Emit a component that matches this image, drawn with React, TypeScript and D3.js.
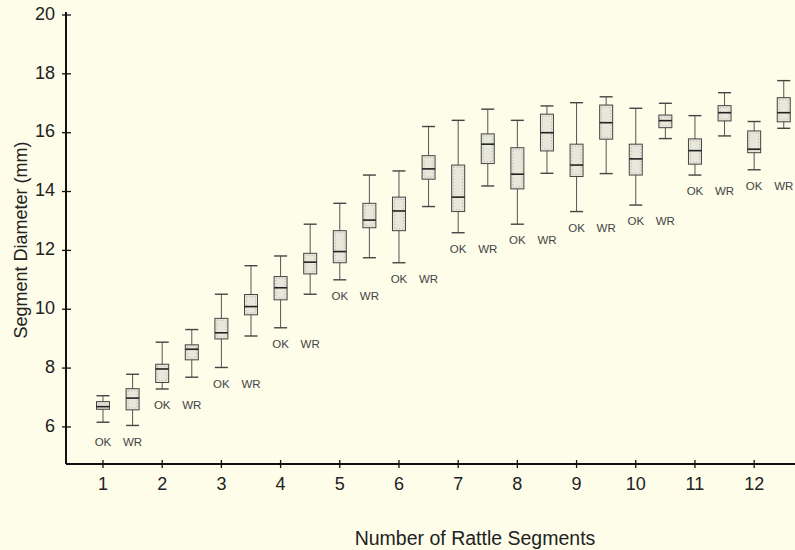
import React, { useEffect, useRef } from 'react';
import * as d3 from 'd3';

// segments (x categories) and tick labels
const segments = [1, 2, 3, 4, 5, 6, 7, 8, 9, 10, 11, 12];
const yTicks = [6, 8, 10, 12, 14, 16, 18, 20];

// OK population: whiskers, quartiles, median (mm)
const okLow = [6.16, 7.29, 8.02, 9.37, 11.0, 11.58, 12.6, 12.89, 13.32, 13.54, 14.56, 14.74];
const okQ1 = [6.6, 7.51, 8.99, 10.32, 11.58, 12.67, 13.32, 14.09, 14.51, 14.56, 14.93, 15.32];
const okMed = [6.69, 7.97, 9.2, 10.73, 11.96, 13.34, 13.81, 14.59, 14.9, 15.11, 15.39, 15.44];
const okQ3 = [6.86, 8.13, 9.69, 11.11, 12.67, 13.81, 14.9, 15.49, 15.61, 15.61, 15.79, 16.06];
const okHigh = [7.06, 8.88, 10.51, 11.81, 13.6, 14.7, 16.42, 16.42, 17.02, 16.83, 16.58, 16.38];

// WR population
const wrLow = [6.05, 7.69, 9.09, 10.51, 11.75, 13.49, 14.19, 14.62, 14.61, 15.8, 15.89, 16.15];
const wrQ1 = [6.58, 8.28, 9.81, 11.2, 12.77, 14.42, 14.95, 15.38, 15.78, 16.17, 16.4, 16.37];
const wrMed = [6.98, 8.64, 10.09, 11.6, 13.03, 14.77, 15.61, 16.0, 16.34, 16.41, 16.68, 16.68];
const wrQ3 = [7.3, 8.79, 10.5, 11.9, 13.6, 15.22, 15.96, 16.63, 16.94, 16.6, 16.92, 17.19];
const wrHigh = [7.79, 9.31, 11.48, 12.89, 14.56, 16.21, 16.8, 16.91, 17.22, 17.0, 17.36, 17.77];

const W = 795;
const H = 550;
const font = '"Liberation Sans", Arial, Helvetica, sans-serif';

const App = () => {
  const svgRef = useRef<SVGSVGElement>(null);

  useEffect(() => {
    const svg = d3.select(svgRef.current);
    svg.selectAll('*').remove();

    const x = d3.scaleLinear().domain([0.375, 12.69]).range([66, 795]);
    const y = d3.scaleLinear().domain([4.74, 20]).range([464, 15]);

    svg.append('rect').attr('width', W).attr('height', H).attr('fill', '#fdfdea');

    // build box records
    const boxes: any[] = [];
    segments.forEach((s, i) => {
      const labV = Math.min(okLow[i], wrLow[i]) - 0.58;
      boxes.push({ pos: s, lab: 'OK', lo: okLow[i], q1: okQ1[i], med: okMed[i], q3: okQ3[i], hi: okHigh[i], labV });
      boxes.push({ pos: s + 0.5, lab: 'WR', lo: wrLow[i], q1: wrQ1[i], med: wrMed[i], q3: wrQ3[i], hi: wrHigh[i], labV });
    });

    const bw = 13;
    const g = svg.append('g');
    const b = g.selectAll('g.box').data(boxes).enter().append('g').attr('class', 'box');

    // whiskers
    b.append('line')
      .attr('x1', d => x(d.pos)).attr('x2', d => x(d.pos))
      .attr('y1', d => y(d.hi)).attr('y2', d => y(d.lo))
      .attr('stroke', '#555').attr('stroke-width', 1);
    b.append('line')
      .attr('x1', d => x(d.pos) - bw / 2).attr('x2', d => x(d.pos) + bw / 2)
      .attr('y1', d => y(d.hi)).attr('y2', d => y(d.hi))
      .attr('stroke', '#444').attr('stroke-width', 1.4);
    b.append('line')
      .attr('x1', d => x(d.pos) - bw / 2).attr('x2', d => x(d.pos) + bw / 2)
      .attr('y1', d => y(d.lo)).attr('y2', d => y(d.lo))
      .attr('stroke', '#444').attr('stroke-width', 1.4);

    // box
    b.append('rect')
      .attr('x', d => x(d.pos) - bw / 2)
      .attr('y', d => y(d.q3))
      .attr('width', bw)
      .attr('height', d => y(d.q1) - y(d.q3))
      .attr('fill', '#e7e7da')
      .attr('stroke', '#444')
      .attr('stroke-width', 1);
    // inner dotted edge
    b.append('rect')
      .attr('x', d => x(d.pos) - bw / 2 + 2)
      .attr('y', d => y(d.q3) + 2)
      .attr('width', bw - 4)
      .attr('height', d => Math.max(0, y(d.q1) - y(d.q3) - 4))
      .attr('fill', 'none')
      .attr('stroke', '#aaa')
      .attr('stroke-width', 0.8)
      .attr('stroke-dasharray', '1,2');
    // median
    b.append('line')
      .attr('x1', d => x(d.pos) - bw / 2).attr('x2', d => x(d.pos) + bw / 2)
      .attr('y1', d => y(d.med)).attr('y2', d => y(d.med))
      .attr('stroke', '#222').attr('stroke-width', 1.6);

    // OK / WR labels
    b.append('text')
      .attr('x', d => x(d.pos))
      .attr('y', d => y(d.labV))
      .attr('text-anchor', 'middle')
      .attr('dominant-baseline', 'middle')
      .attr('font-family', font)
      .attr('font-size', 11.5)
      .attr('fill', '#444')
      .text(d => d.lab);

    // axes
    const axes = svg.append('g').attr('stroke', '#111');
    axes.append('line').attr('x1', 66).attr('x2', 66).attr('y1', y(20) - 3).attr('y2', 464).attr('stroke-width', 2);
    axes.append('line').attr('x1', 66).attr('x2', W).attr('y1', 464).attr('y2', 464).attr('stroke-width', 2);

    svg.selectAll('line.yt').data(yTicks).enter().append('line')
      .attr('x1', 62).attr('x2', 71)
      .attr('y1', d => y(d)).attr('y2', d => y(d))
      .attr('stroke', '#111').attr('stroke-width', 1.3);
    svg.selectAll('text.yt').data(yTicks).enter().append('text')
      .attr('x', 55).attr('y', d => y(d))
      .attr('text-anchor', 'end')
      .attr('dominant-baseline', 'middle')
      .attr('font-family', font).attr('font-size', 18).attr('fill', '#222')
      .text(d => d);

    svg.selectAll('line.xt').data(segments).enter().append('line')
      .attr('x1', d => x(d)).attr('x2', d => x(d))
      .attr('y1', 460).attr('y2', 468)
      .attr('stroke', '#111').attr('stroke-width', 1.3);
    svg.selectAll('text.xt').data(segments).enter().append('text')
      .attr('x', d => x(d)).attr('y', 485)
      .attr('text-anchor', 'middle')
      .attr('dominant-baseline', 'middle')
      .attr('font-family', font).attr('font-size', 18).attr('fill', '#222')
      .text(d => d);

    // titles
    svg.append('text')
      .attr('transform', 'translate(22,240) rotate(-90)')
      .attr('text-anchor', 'middle')
      .attr('dominant-baseline', 'middle')
      .attr('font-family', font).attr('font-size', 18).attr('fill', '#222')
      .text('Segment Diameter (mm)');
    svg.append('text')
      .attr('x', 475).attr('y', 540)
      .attr('text-anchor', 'middle')
      .attr('dominant-baseline', 'middle')
      .attr('font-family', font).attr('font-size', 19.5).attr('fill', '#222')
      .text('Number of Rattle Segments');
  }, []);

  return (
    <svg ref={svgRef} width={W} height={H} style={{ position: 'absolute', left: 0, top: 0 }} />
  );
};

export default App;
